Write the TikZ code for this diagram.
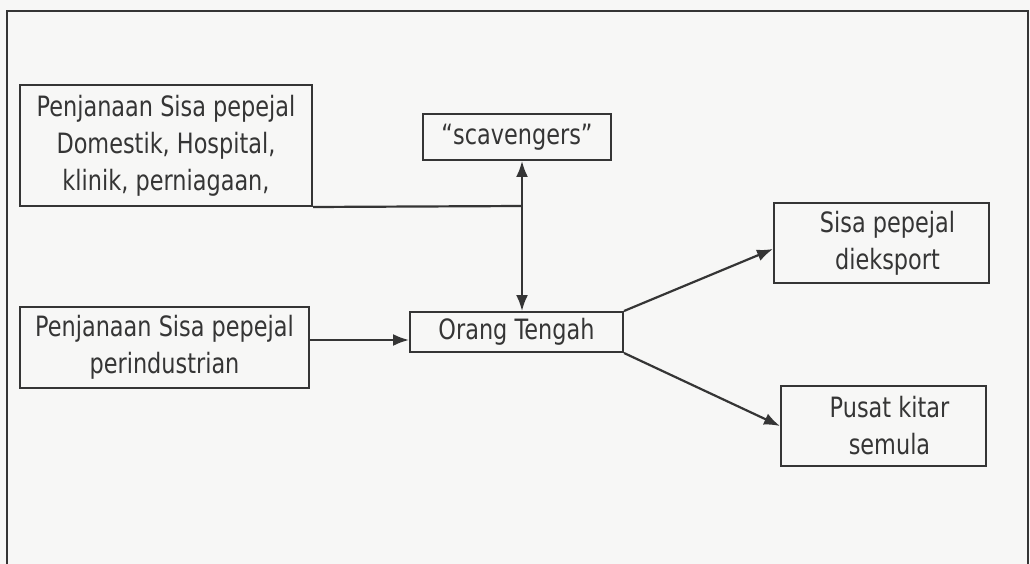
\documentclass[tikz,border=0pt]{standalone}
\usepackage{fontspec}
\setmainfont[FakeStretch=0.8]{DejaVu Sans}
\usepackage{tikz}
\usetikzlibrary{arrows.meta}
\definecolor{inkgray}{HTML}{353535}
\definecolor{paper}{HTML}{F7F7F6}

\begin{document}
\begin{tikzpicture}[x=1pt, y=-1pt, >={Latex[length=16pt,width=12pt]},
  every box/.style={draw=inkgray, line width=2pt, inner sep=0pt, align=center,
    text=inkgray, font=\fontsize{28}{37}\selectfont},
  link/.style={draw=inkgray, line width=2.2pt}]

\fill [paper] (0,0) rectangle (1030,564);
\useasboundingbox (0,0) rectangle (1030,564);
\draw [link] (7,570) -- (7,11) -- (1028,11) -- (1028,570);

% sources
\node [every box, minimum width=292pt, minimum height=121pt] (domestik) at (166,145.5)
  {Penjanaan Sisa pepejal\\Domestik, Hospital,\\klinik, perniagaan,};
\node [every box, minimum width=289pt, minimum height=81pt] (industri) at (164.5,347.5)
  {Penjanaan Sisa pepejal\\perindustrian};

% middle
\node [every box, minimum width=188pt, minimum height=46pt] (scavengers) at (517,137)
  {“scavengers”};
\node [every box, minimum width=213pt, minimum height=40pt] (orang) at (516.5,332)
  {Orang Tengah};

% outlets
\node [every box, minimum width=215pt, minimum height=80pt] (eksport) at (881.5,243)
  {\hspace{12pt}Sisa pepejal\\\hspace{12pt}dieksport};
\node [every box, minimum width=205pt, minimum height=80pt] (kitar) at (883.5,426)
  {\hspace{12pt}Pusat kitar\\\hspace{12pt}semula};

\coordinate (junction) at (522,206);

\draw [link] (domestik.south east) -- (junction);
\draw [link, <->] (junction |- scavengers.south) -- (junction |- orang.north);
\draw [link, ->] ([yshift=7.5pt]industri.east) -- ([yshift=7.5pt]industri.east -| orang.west);
\draw [link, ->] (orang.north east) -- ([yshift=-6pt]eksport.west);
\draw [link, ->] (orang.south east) -- (kitar.west);
\end{tikzpicture}
\end{document}
